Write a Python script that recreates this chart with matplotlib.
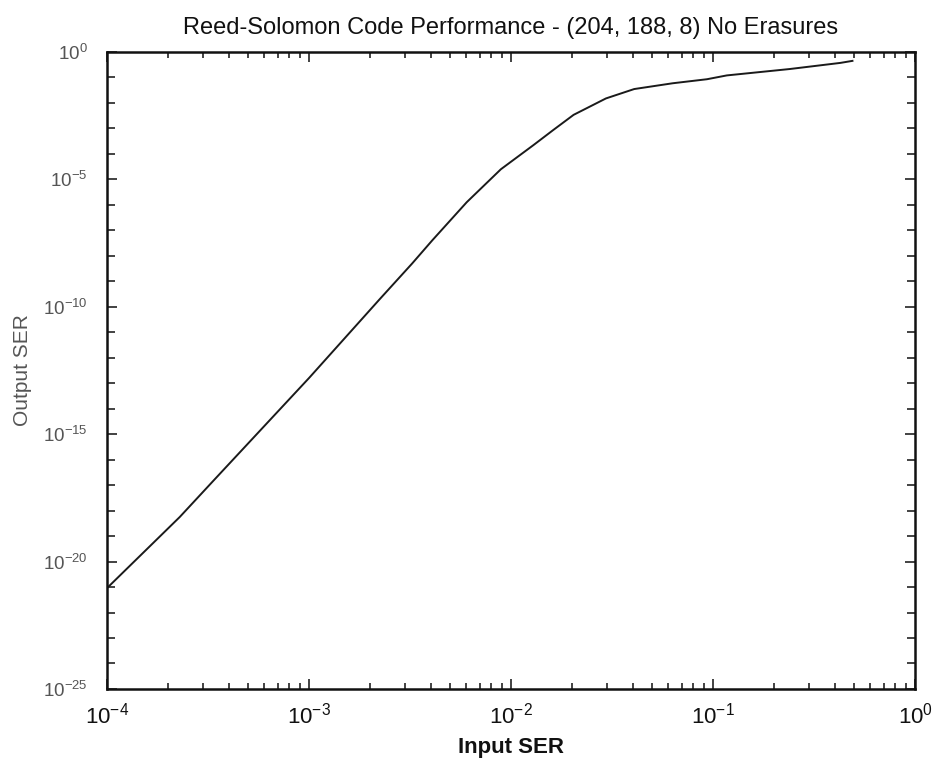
import matplotlib
matplotlib.use("Agg")
import matplotlib.pyplot as plt
from matplotlib.ticker import FixedLocator, FixedFormatter, LogLocator, NullFormatter

# Data
input_ser = [1.0e-4, 2.29e-4, 3.39e-4, 1.0e-3, 2.24e-3, 3.24e-3, 4.07e-3, 6.03e-3,
             8.91e-3, 1.29e-2, 1.62e-2, 2.04e-2, 2.95e-2, 4.07e-2, 6.31e-2, 9.33e-2,
             0.117, 0.240, 0.427, 0.490]
output_ser = [9.1e-22, 5.6e-19, 1.6e-17, 1.6e-13, 2.0e-10, 5.0e-9, 4.0e-8, 1.26e-6,
              2.5e-5, 2.2e-4, 8.7e-4, 3.4e-3, 1.5e-2, 3.5e-2, 5.9e-2, 8.5e-2,
              0.120, 0.214, 0.372, 0.447]

x_ticks = [1e-4, 1e-3, 1e-2, 1e-1, 1e0]
x_tick_labels = ['10$^{\\mathsf{-4}}$', '10$^{\\mathsf{-3}}$', '10$^{\\mathsf{-2}}$',
                 '10$^{\\mathsf{-1}}$', '10$^{\\mathsf{0}}$']
y_ticks = [1e-25, 1e-20, 1e-15, 1e-10, 1e-5, 1e0]
y_tick_labels = ['10$^{\\mathsf{-25}}$', '10$^{\\mathsf{-20}}$', '10$^{\\mathsf{-15}}$',
                 '10$^{\\mathsf{-10}}$', '10$^{\\mathsf{-5}}$', '10$^{\\mathsf{0}}$']

title = 'Reed-Solomon Code Performance - (204, 188, 8) No Erasures'
xlabel = 'Input SER'
ylabel = 'Output SER'

fam = ['Liberation Sans Narrow', 'Liberation Sans', 'DejaVu Sans']
plt.rcParams['font.family'] = fam
plt.rcParams['mathtext.fontset'] = 'custom'
plt.rcParams['mathtext.rm'] = 'Liberation Sans'
plt.rcParams['mathtext.sf'] = 'Liberation Sans'
plt.rcParams['mathtext.it'] = 'Liberation Sans'
plt.rcParams['mathtext.bf'] = 'Liberation Sans:bold'

fig = plt.figure(figsize=(9.34, 7.64), dpi=100)
ax = fig.add_axes([0.1146, 0.0982, 0.8651, 0.8338])

ax.plot(input_ser, output_ser, color='#1a1a1a', linewidth=1.4)

ax.set_xscale('log')
ax.set_yscale('log')
ax.set_xlim(1e-4, 1e0)
ax.set_ylim(1e-25, 1e0)

ax.xaxis.set_major_locator(FixedLocator(x_ticks))
ax.xaxis.set_major_formatter(FixedFormatter(x_tick_labels))
ax.xaxis.set_minor_locator(LogLocator(base=10, subs=range(2, 10), numticks=20))
ax.xaxis.set_minor_formatter(NullFormatter())

ax.yaxis.set_major_locator(FixedLocator(y_ticks))
ax.yaxis.set_major_formatter(FixedFormatter(y_tick_labels))
ax.yaxis.set_minor_locator(LogLocator(base=10, subs=(1.0,), numticks=40))
ax.yaxis.set_minor_formatter(NullFormatter())

ax.tick_params(which='both', direction='in', top=True, right=True, width=1.2, color='#222222')
ax.tick_params(which='major', length=7)
ax.tick_params(which='minor', length=4)
ax.tick_params(axis='x', which='major', labelsize=16, labelcolor='#111111', pad=10)
ax.tick_params(axis='y', which='major', labelsize=13.5, labelcolor='#555555', pad=14)
ax.tick_params(axis='y', which='minor', length=6)

for s in ax.spines.values():
    s.set_linewidth(1.8)
    s.set_color('#111111')

ax.set_title(title, fontsize=17, color='#111111', pad=13)
ax.set_xlabel(xlabel, fontsize=16, fontweight='bold', color='#111111')
ax.xaxis.set_label_coords(0.5, -0.076)
ax.set_ylabel(ylabel, fontsize=15, color='#555555')
ax.yaxis.set_label_coords(-0.093, 0.5)

fig.savefig('out.png', dpi=100, facecolor='white')
